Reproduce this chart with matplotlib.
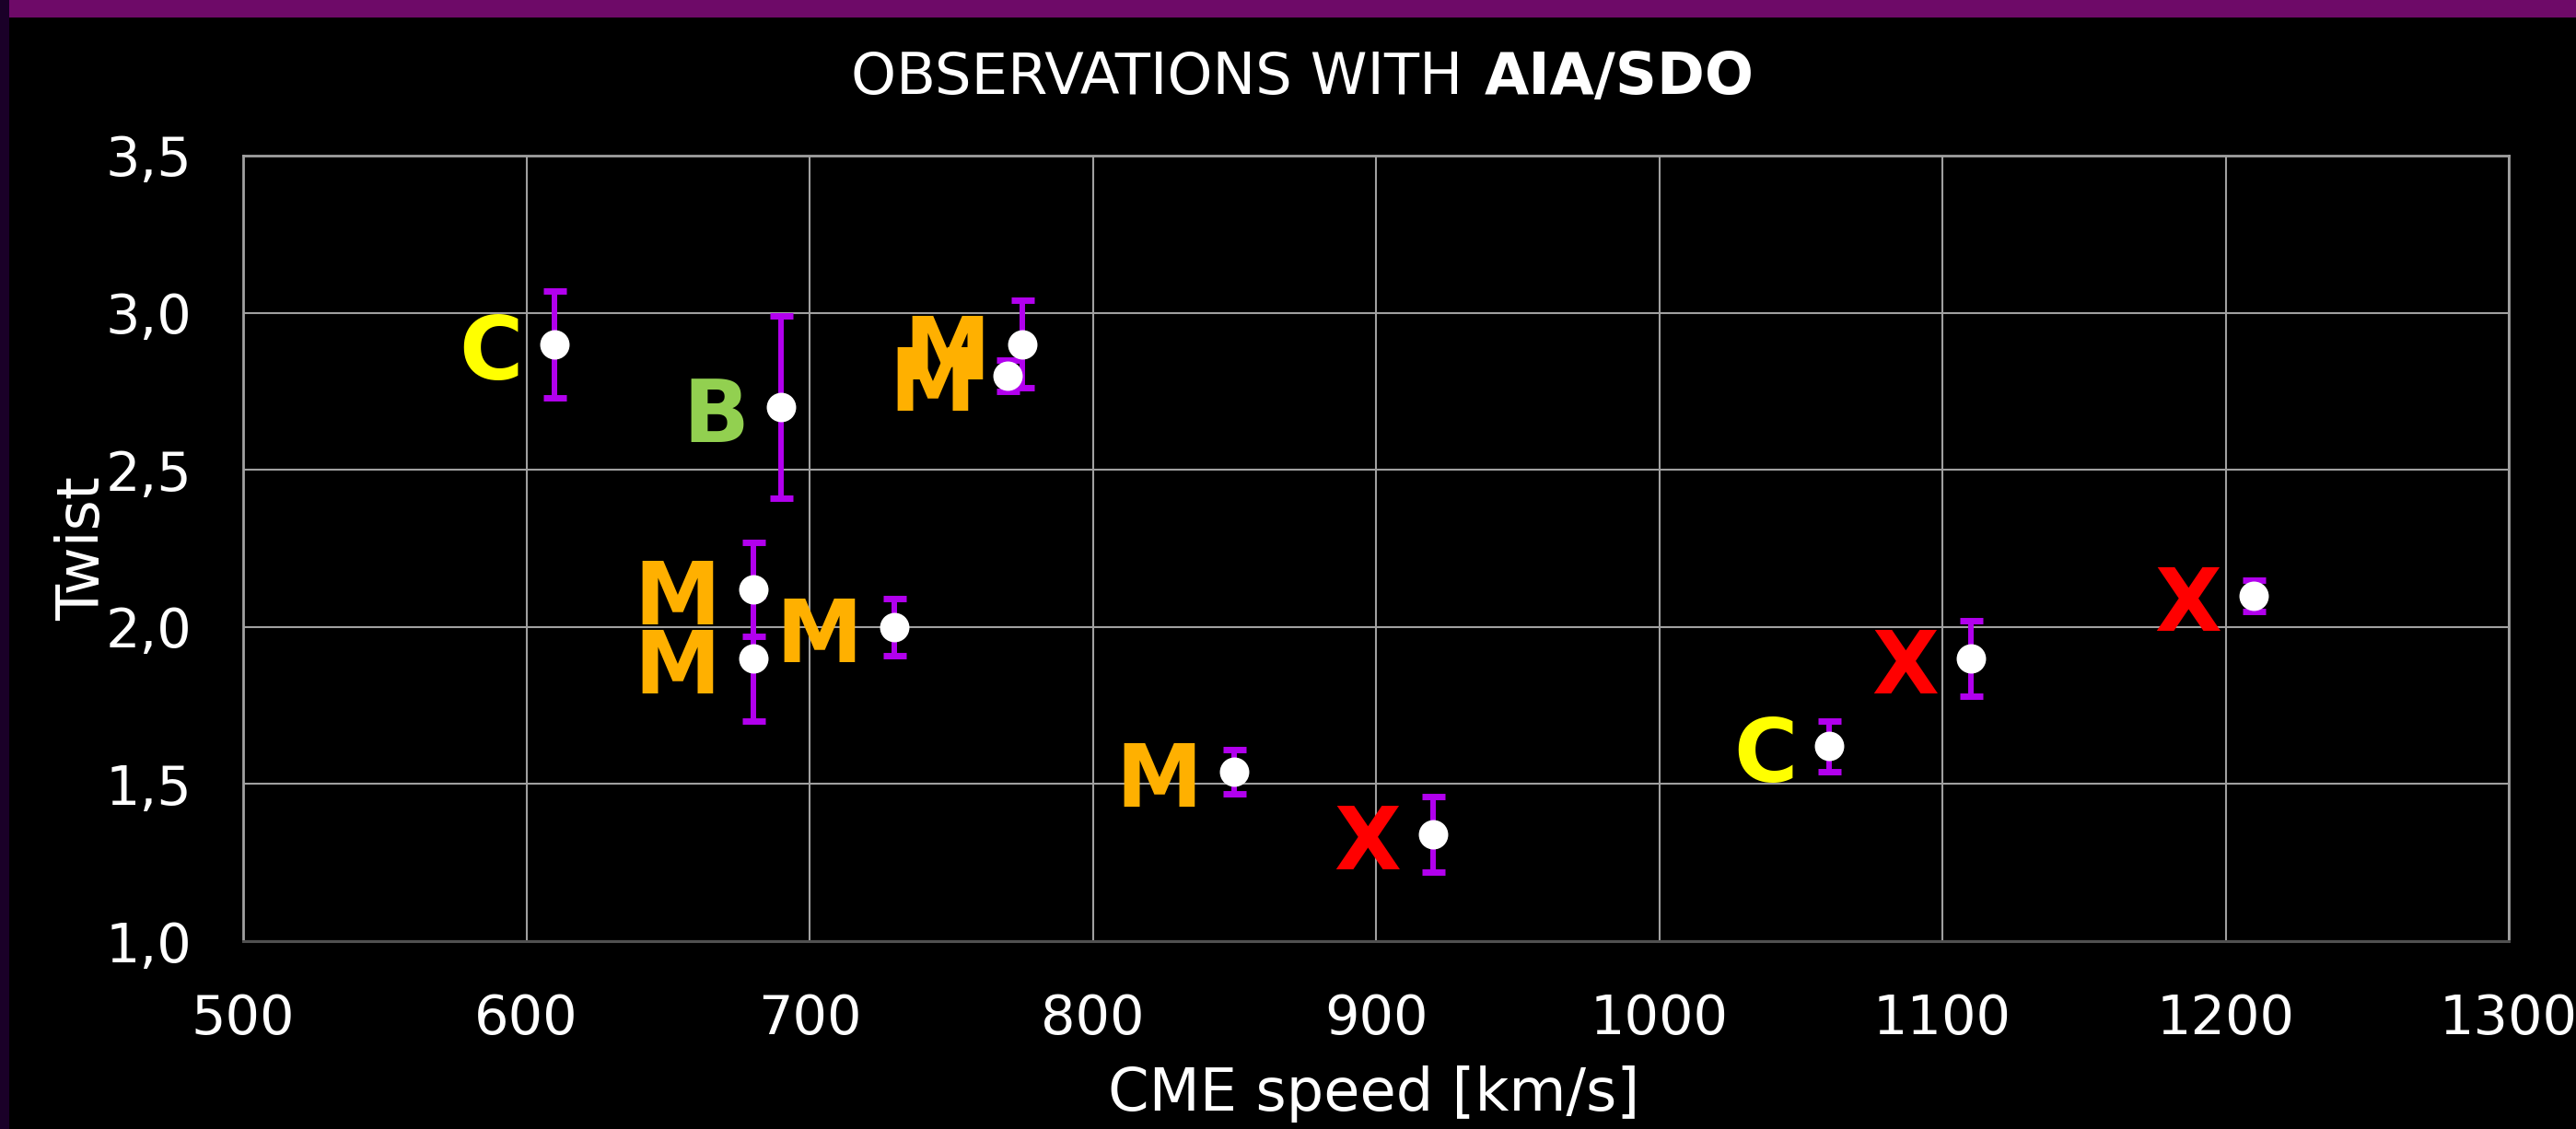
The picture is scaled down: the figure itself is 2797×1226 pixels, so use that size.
import matplotlib
matplotlib.use("Agg")
import matplotlib.pyplot as plt
from matplotlib.patches import Rectangle
from matplotlib.ticker import FuncFormatter, MultipleLocator
import numpy as np

# ---- data ----
speed = [610, 690, 770, 775, 680, 680, 730, 850, 920, 1060, 1110, 1210]
twist = [2.90, 2.70, 2.80, 2.90, 2.12, 1.90, 2.00, 1.54, 1.34, 1.62, 1.90, 2.10]
twist_err = [0.17, 0.29, 0.05, 0.14, 0.15, 0.20, 0.09, 0.07, 0.12, 0.08, 0.12, 0.05]
flare_class = ['C', 'B', 'M', 'M', 'M', 'M', 'M', 'M', 'X', 'C', 'X', 'X']
class_colors = {'B': '#92d050', 'C': '#ffff00', 'M': '#ffb000', 'X': '#ff0000'}

title_plain = "OBSERVATIONS WITH"
title_bold = "AIA/SDO"
xlabel = "CME speed [km/s]"
ylabel = "Twist"

FONT = ['DejaVu Sans Condensed', 'DejaVu Sans']
plt.rcParams['font.family'] = FONT

W, H = 2797, 1226
DPI = 100
fig = plt.figure(figsize=(W / DPI, H / DPI), dpi=DPI, facecolor='black')

# decorative slide borders
fig.patches.append(Rectangle((0, 1 - 19 / H), 1, 19 / H, transform=fig.transFigure,
                             facecolor='#6e0a68', edgecolor='none', zorder=0))
fig.patches.append(Rectangle((0, 0), 10 / W, 1, transform=fig.transFigure,
                             facecolor='#1a0028', edgecolor='none', zorder=1))

L, R, T, B = 264, 2724, 169, 1022
ax = fig.add_axes([L / W, 1 - B / H, (R - L) / W, (B - T) / H])
ax.set_facecolor('black')
ax.set_xlim(500, 1300)
ax.set_ylim(1.0, 3.5)
ax.xaxis.set_major_locator(MultipleLocator(100))
ax.yaxis.set_major_locator(MultipleLocator(0.5))
ax.yaxis.set_major_formatter(FuncFormatter(lambda v, p: f"{v:.1f}".replace('.', ',')))
ax.xaxis.set_major_formatter(FuncFormatter(lambda v, p: f"{int(round(v))}"))
ax.tick_params(axis='both', length=0, pad=40, labelsize=42.5, colors='white')
ax.grid(True, color='#a0a0a0', linewidth=1.5, zorder=0)
ax.set_axisbelow(True)
for s in ['top', 'right', 'left']:
    ax.spines[s].set_color('#a0a0a0')
    ax.spines[s].set_linewidth(2)
ax.spines['bottom'].set_color('#505050')
ax.spines['bottom'].set_linewidth(2.2)

ax.errorbar(speed, twist, yerr=twist_err, fmt='none', ecolor='#b200ee',
            elinewidth=4.3, capsize=9, capthick=5, zorder=3)
ax.plot(speed, twist, 'o', color='white', markersize=23, markeredgewidth=0, zorder=4)

for xv, yv, c in zip(speed, twist, flare_class):
    ax.annotate(c, (xv, yv), xytext=(-25, -27.5), textcoords='offset points',
                ha='right', va='baseline', fontsize=68, fontweight='bold',
                color=class_colors[c], zorder=5)

# axis labels
fig.text(1492 / W, 1 - 1206 / H, xlabel, ha='center', va='baseline',
         fontsize=46, color='white')
fig.text(108 / W, 1 - 596 / H, ylabel, rotation=90, rotation_mode='anchor',
         ha='center', va='baseline', fontsize=46, color='white')

# title with bold part
ty = 1 - 102 / H
t1 = fig.text(0, ty, title_plain, ha='left', va='baseline', fontsize=45, color='white')
t2 = fig.text(0, ty, title_bold, ha='left', va='baseline', fontsize=45,
              fontweight='bold', color='white')
fig.canvas.draw()
r = fig.canvas.get_renderer()
w1 = t1.get_window_extent(r).width
w2 = t2.get_window_extent(r).width
gap = 23
x0 = 1414.5 - (w1 + gap + w2) / 2
t1.set_x(x0 / W)
t2.set_x((x0 + w1 + gap) / W)

fig.savefig('out.png', dpi=DPI, facecolor='black')
